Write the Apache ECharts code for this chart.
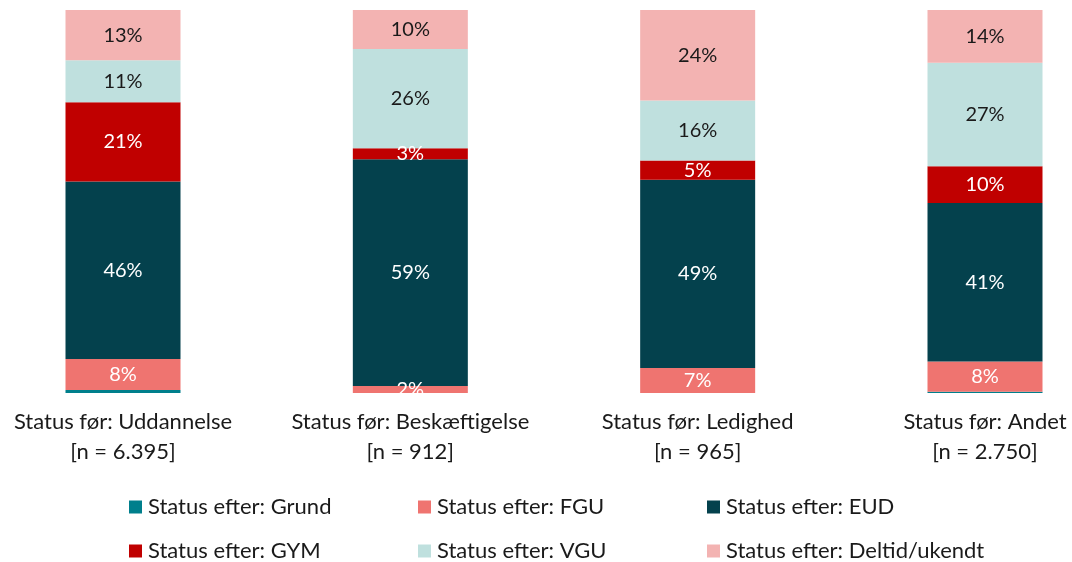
<!DOCTYPE html>
<html>
<head>
<meta charset="utf-8">
<script src="https://cdn.jsdelivr.net/npm/echarts@6/dist/echarts.min.js"></script>
<style>
  html, body { margin: 0; padding: 0; background: #fff; }
  #chart { width: 1072px; height: 562px; }
</style>
</head>
<body>
<div id="chart"></div>
<script>
// categories (status before) and share per status after, in %
const categories = [
  'Status før: Uddannelse\n[n = 6.395]',
  'Status før: Beskæftigelse\n[n = 912]',
  'Status før: Ledighed\n[n = 965]',
  'Status før: Andet\n[n = 2.750]'
];
const grund  = [0.8, 0, 0, 0.3];
const fgu    = [8.1, 1.8, 6.5, 7.9];
const eud    = [46.3, 59.2, 49.2, 41.4];
const gym    = [20.7, 2.9, 5.0, 9.6];
const vgu    = [11.0, 25.9, 15.7, 27.0];
const deltid = [13.1, 10.2, 23.6, 13.8];

const seriesNames = [
  'Status efter: Grund', 'Status efter: FGU', 'Status efter: EUD',
  'Status efter: GYM', 'Status efter: VGU', 'Status efter: Deltid/ukendt'
];
const seriesData = [grund, fgu, eud, gym, vgu, deltid];
const colors = ['#007F8C', '#EF7470', '#04414D', '#C00000', '#BFE0DE', '#F3B3B2'];
const labelColors = [null, '#fff', '#fff', '#fff', '#1a1a1a', '#1a1a1a'];

const FONT = 'Lato';

let chart = echarts.init(document.getElementById('chart'), null, { renderer: 'canvas' });

let series = seriesData.map(function (d, i) {
  return {
    name: seriesNames[i],
    type: 'bar',
    stack: 'total',
    barWidth: 115,
    data: d,
    itemStyle: { color: colors[i] },
    label: {
      show: i > 0,
      position: 'inside',
      color: labelColors[i],
      fontFamily: FONT,
      fontSize: 20,
      formatter: function (p) { return Math.round(p.value) + '%'; }
    },
    emphasis: { disabled: true }
  };
});

// legend laid out as 2 rows x 3 columns
let legendPos = [
  [129, 496], [418, 496], [707, 496],
  [129, 540], [418, 540], [707, 540]
];
let legends = seriesNames.map(function (n, i) {
  return {
    data: [n],
    left: legendPos[i][0],
    top: legendPos[i][1],
    padding: 0,
    itemWidth: 13,
    itemHeight: 13,
    itemGap: 4,
    icon: 'rect',
    selectedMode: false,
    textStyle: { fontFamily: FONT, fontSize: 22, color: '#1a1a1a', padding: [0, 0, 0, 1] }
  };
});

chart.setOption({
  animation: false,
  color: colors,
  // boundaryGap false puts the bars on the grid edges, matching the reference spacing
  grid: { left: 123, right: 87, top: 10, bottom: 169, containLabel: false },
  legend: legends,
  xAxis: {
    type: 'category',
    data: categories,
    boundaryGap: false,
    axisLine: { show: false },
    axisTick: { show: false },
    axisLabel: {
      margin: 14,
      fontFamily: FONT,
      fontSize: 22,
      lineHeight: 30,
      color: '#1a1a1a',
      interval: 0
    }
  },
  yAxis: {
    type: 'value',
    min: 0,
    max: 100,
    show: false
  },
  series: series
});
</script>
</body>
</html>
